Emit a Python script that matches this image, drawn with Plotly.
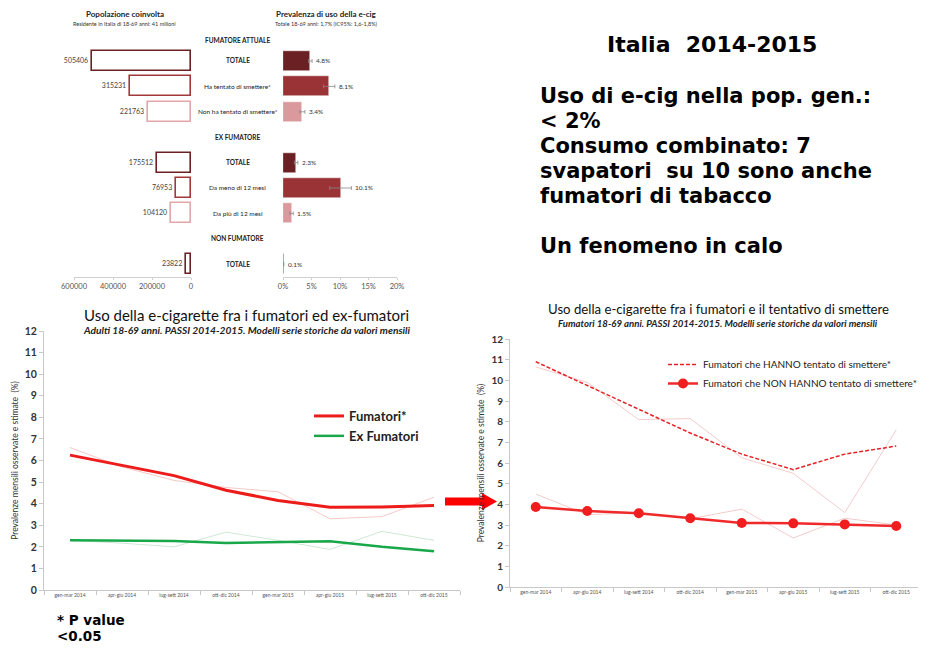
import plotly.graph_objects as go

# The page body adds an 8px margin; lay the figure out in window pixels
OFF = 8
W, H = 926 - OFF, 648 - OFF
def px(x): return (x - OFF) / W
def py(y): return 1 - (y - OFF) / H

# ---------------- Top panel data ----------------
group_headers = ["FUMATORE ATTUALE", "EX FUMATORE", "NON FUMATORE"]
group_sizes = [3, 3, 1]
bar_labels = ["TOTALE", "Ha tentato di smettere*", "Non ha tentato di smettere*",
              "TOTALE", "Da meno di 12 mesi", "Da più di 12 mesi",
              "TOTALE"]
population = [505406, 315231, 221763, 175512, 76953, 104120, 23822]
prevalence = [4.8, 8.1, 3.4, 2.3, 10.1, 1.5, 0.1]
prevalence_err = [0.3, 1.0, 0.45, 0.3, 1.9, 0.3, 0.05]
bar_shades = ["dark", "mid", "light", "dark", "mid", "light", "dark"]
pop_ticks = [600000, 400000, 200000, 0]
prev_ticks = [0, 5, 10, 15, 20]

# ---------------- Bottom panels data ----------------
quarters = ["gen-mar 2014", "apr-giu 2014", "lug-sett 2014", "ott-dic 2014",
            "gen-mar 2015", "apr-giu 2015", "lug-sett 2015", "ott-dic 2015"]
fumatori_model = [6.25, 5.77, 5.3, 4.62, 4.15, 3.83, 3.85, 3.92]
fumatori_obs = [6.6, 5.7, 5.08, 4.75, 4.55, 3.3, 3.4, 4.3]
exfumatori_model = [2.3, 2.27, 2.27, 2.18, 2.23, 2.26, 2.0, 1.8]
exfumatori_obs = [2.3, 2.17, 2.0, 2.68, 2.3, 1.88, 2.72, 2.3]

hanno_model = [10.9, 9.77, 8.6, 7.45, 6.43, 5.68, 6.43, 6.82]
hanno_obs = [10.65, 9.9, 8.1, 8.15, 6.25, 5.5, 3.6, 7.6]
non_hanno_model = [3.87, 3.68, 3.57, 3.33, 3.1, 3.08, 3.03, 2.95]
non_hanno_obs = [4.5, 3.5, 3.6, 3.3, 3.77, 2.37, 3.33, 3.0]
y_ticks = list(range(0, 13))

# ---------------- Styles ----------------
shade_fill = {"dark": "#6b2023", "mid": "#9a3335", "light": "#dc999d"}
shade_line = {"dark": "#6b2023", "mid": "#a3383b", "light": "#e3a6a9"}
CH = "Lato"
VB = "DejaVu Sans"

# compute row indices (headers + bars)
bar_rows, header_rows = [], []
idx = 0
for size in group_sizes:
    header_rows.append(idx)
    idx += 1
    for _ in range(size):
        bar_rows.append(idx)
        idx += 1

fig = go.Figure()

# population bars (outlined)
fig.add_trace(go.Bar(
    x=population, y=bar_rows, orientation="h", width=0.78,
    marker=dict(color="white", line=dict(color=[shade_line[s] for s in bar_shades], width=1.6)),
    text=[str(v) for v in population], textposition="outside",
    textfont=dict(size=7, color="#444", family=CH), cliponaxis=False,
    xaxis="x", yaxis="y", showlegend=False))

# prevalence bars
fig.add_trace(go.Bar(
    x=prevalence, y=bar_rows, orientation="h", width=0.78,
    marker=dict(color=[shade_fill[s] for s in bar_shades], line=dict(color="white", width=0.5)),
    error_x=dict(type="data", array=prevalence_err, color="#888", thickness=0.8, width=2),
    xaxis="x2", yaxis="y2", showlegend=False))

# bottom-left chart
fig.add_trace(go.Scatter(x=quarters, y=fumatori_obs, mode="lines",
                         line=dict(color="#f6c9c9", width=1), xaxis="x3", yaxis="y3", showlegend=False))
fig.add_trace(go.Scatter(x=quarters, y=exfumatori_obs, mode="lines",
                         line=dict(color="#cfe8d6", width=1), xaxis="x3", yaxis="y3", showlegend=False))
fig.add_trace(go.Scatter(x=quarters, y=fumatori_model, mode="lines", name="Fumatori*",
                         line=dict(color="#ee1b1b", width=3), xaxis="x3", yaxis="y3", legend="legend"))
fig.add_trace(go.Scatter(x=quarters, y=exfumatori_model, mode="lines", name="Ex Fumatori",
                         line=dict(color="#18a84a", width=2.5), xaxis="x3", yaxis="y3", legend="legend"))

# bottom-right chart
fig.add_trace(go.Scatter(x=quarters, y=hanno_obs, mode="lines",
                         line=dict(color="#f3cccc", width=1), xaxis="x4", yaxis="y4", showlegend=False))
fig.add_trace(go.Scatter(x=quarters, y=non_hanno_obs, mode="lines",
                         line=dict(color="#f3cccc", width=1), xaxis="x4", yaxis="y4", showlegend=False))
fig.add_trace(go.Scatter(x=quarters, y=hanno_model, mode="lines",
                         name="Fumatori che HANNO tentato di smettere*",
                         line=dict(color="#e52225", width=1.5, dash="4px,2px"),
                         xaxis="x4", yaxis="y4", legend="legend2"))
fig.add_trace(go.Scatter(x=quarters, y=non_hanno_model, mode="lines+markers",
                         name="Fumatori che NON HANNO tentato di smettere*",
                         line=dict(color="#f02a2a", width=2.5), marker=dict(size=10, color="#f01e1e"),
                         xaxis="x4", yaxis="y4", legend="legend2"))

# ---------------- Axes ----------------
row_top_px, row_step = 35.6, 25.4
y_bottom_px, y_top_px = 277, 26
yr = [(y_bottom_px - row_top_px) / row_step, (y_top_px - row_top_px) / row_step]

top_xaxis = dict(showgrid=False, zeroline=False, showline=True, linecolor="#d0d0d0", linewidth=1,
                 ticks="outside", ticklen=2, tickcolor="#d0d0d0",
                 tickfont=dict(size=7.5, color="#555", family=CH))
bottom_common_y = dict(range=[0, 12], tickvals=y_ticks, showgrid=False, zeroline=False,
                       showline=True, linecolor="#c8c8c8", ticks="outside", ticklen=4, tickcolor="#c8c8c8",
                       tickfont=dict(size=10.5, color="#333", family=CH, weight="bold"))
bottom_common_x = dict(showgrid=False, zeroline=False, showline=True, linecolor="#c8c8c8",
                       ticks="outside", ticklen=4, tickcolor="#c8c8c8", tickson="boundaries",
                       range=[-0.5, len(quarters) - 0.5],
                       tickfont=dict(size=5, color="#555", family=CH), tickangle=0)
ytitle = "Prevalenze mensili osservate e stimate  (%)"

fig.update_layout(
    width=W, height=H, margin=dict(l=0, r=0, t=0, b=0, autoexpand=False),
    paper_bgcolor="white", plot_bgcolor="white", bargap=0,
    xaxis=dict(domain=[px(74), px(191)], range=[600000, 0], tickvals=pop_ticks,
               ticktext=[str(v) for v in pop_ticks], anchor="y", **top_xaxis),
    yaxis=dict(domain=[py(y_bottom_px), py(y_top_px)], range=yr, visible=False, anchor="x"),
    xaxis2=dict(domain=[px(283), px(397)], range=[0, 20], tickvals=prev_ticks,
                ticktext=[f"{v}%" for v in prev_ticks], anchor="y2", **top_xaxis),
    yaxis2=dict(domain=[py(y_bottom_px), py(y_top_px)], range=yr, visible=False, anchor="x2"),
    xaxis3=dict(domain=[px(44), px(460)], anchor="y3", **bottom_common_x),
    yaxis3=dict(domain=[py(590), py(331)], anchor="x3",
                title=dict(text=ytitle, font=dict(size=8.5, color="#333", family=CH), standoff=4),
                **bottom_common_y),
    xaxis4=dict(domain=[px(510), px(922)], anchor="y4", **bottom_common_x),
    yaxis4=dict(domain=[py(587), py(339)], anchor="x4",
                title=dict(text=ytitle, font=dict(size=8.5, color="#333", family=CH), standoff=5),
                **{**bottom_common_y, "tickfont": dict(size=10, color="#333", family=CH, weight="bold")}),
    legend=dict(x=px(309), y=py(401), xanchor="left", yanchor="top", bgcolor="rgba(0,0,0,0)",
                font=dict(size=13, color="#222", family=CH, weight="bold"), itemwidth=30,
                tracegroupgap=0),
    legend2=dict(x=px(922), y=py(350), xanchor="right", yanchor="top", bgcolor="rgba(0,0,0,0)",
                 font=dict(size=10, color="#222", family=CH), itemwidth=30, tracegroupgap=0),
)

ann = []
# top titles
ann += [
    dict(text="<b>Popolazione coinvolta</b>", x=px(125), y=py(14), font=dict(size=8, color="#222", family=CH)),
    dict(text="Residente in Italia di 18-69 anni: 41 milioni", x=px(125), y=py(24), font=dict(size=5.5, color="#333", family=CH)),
    dict(text="<b>Prevalenza di uso della e-cig</b>", x=px(326), y=py(14), font=dict(size=8, color="#222", family=CH)),
    dict(text="Totale 18-69 anni: 1,7% (IC95%: 1,6-1,8%)", x=px(326), y=py(24), font=dict(size=5.5, color="#333", family=CH)),
]
for i, (r, h) in enumerate(zip(header_rows, group_headers)):
    ann.append(dict(text=f"<b>{h}</b>", x=px(238), xref="paper", y=r, yref="y",
                    yshift=-5 if i == 0 else 0, font=dict(size=6.5, color="#222", family=CH)))
for r, lab in zip(bar_rows, bar_labels):
    txt = f"<b>{lab}</b>" if lab == "TOTALE" else lab
    ann.append(dict(text=txt, x=px(238), xref="paper", y=r, yref="y",
                    font=dict(size=6.5, color="#222", family=CH)))
for r, v, e in zip(bar_rows, prevalence, prevalence_err):
    ann.append(dict(text=f"{v}%", x=v + e + 0.35, xref="x2", y=r, yref="y2", xanchor="left",
                    font=dict(size=6.5, color="#333", family=CH)))

# bottom titles
ann += [
    dict(text="Uso della e-cigarette fra i fumatori ed ex-fumatori", x=px(246), y=py(315),
         font=dict(size=15, color="#111", family=CH)),
    dict(text="<b><i>Adulti 18-69 anni. PASSI 2014-2015. Modelli serie storiche da valori mensili</i></b>",
         x=px(246), y=py(330), font=dict(size=10.2, color="#222", family=CH)),
    dict(text="Uso della e-cigarette fra i fumatori e il tentativo di smettere", x=px(718), y=py(309),
         font=dict(size=13.2, color="#111", family=CH)),
    dict(text="<b><i>Fumatori 18-69 anni. PASSI 2014-2015. Modelli serie storiche da valori mensili</i></b>",
         x=px(718), y=py(323), font=dict(size=9.6, color="#222", family=CH)),
]

# right-side text block
ann.append(dict(text="<b>Italia  2014-2015</b>", x=px(712), y=py(44), font=dict(size=22, color="#000", family=VB)))
side_lines = ["Uso di e-cig nella pop. gen.:", "< 2%", "Consumo combinato: 7",
              "svapatori  su 10 sono anche", "fumatori di tabacco", "", "Un fenomeno in calo"]
for k, line in enumerate(side_lines):
    if line:
        ann.append(dict(text=f"<b>{line}</b>", x=px(538), y=py(96 + 25 * k), xanchor="left",
                        font=dict(size=21, color="#000", family=VB)))
ann.append(dict(text="<b>* P value</b>", x=px(55), y=py(620), xanchor="left",
                font=dict(size=13.5, color="#000", family=VB)))
ann.append(dict(text="<b><0.05</b>", x=px(55), y=py(636), xanchor="left",
                font=dict(size=13.5, color="#000", family=VB)))

for a in ann:
    a.setdefault("xref", "paper")
    a.setdefault("yref", "paper")
    a.setdefault("xanchor", "center")
    a.setdefault("yanchor", "middle")
    a.setdefault("showarrow", False)
fig.update_layout(annotations=ann)

# red arrow between bottom charts
pts = [(445, 497.5), (482, 497.5), (482, 493), (497, 501.5), (482, 510), (482, 505.5), (445, 505.5)]
path = "M " + " L ".join(f"{px(x):.5f},{py(y):.5f}" for x, y in pts) + " Z"
fig.add_shape(type="path", path=path, xref="paper", yref="paper",
              fillcolor="#ff0000", line=dict(width=0), layer="above")

fig.write_html("out.html")
